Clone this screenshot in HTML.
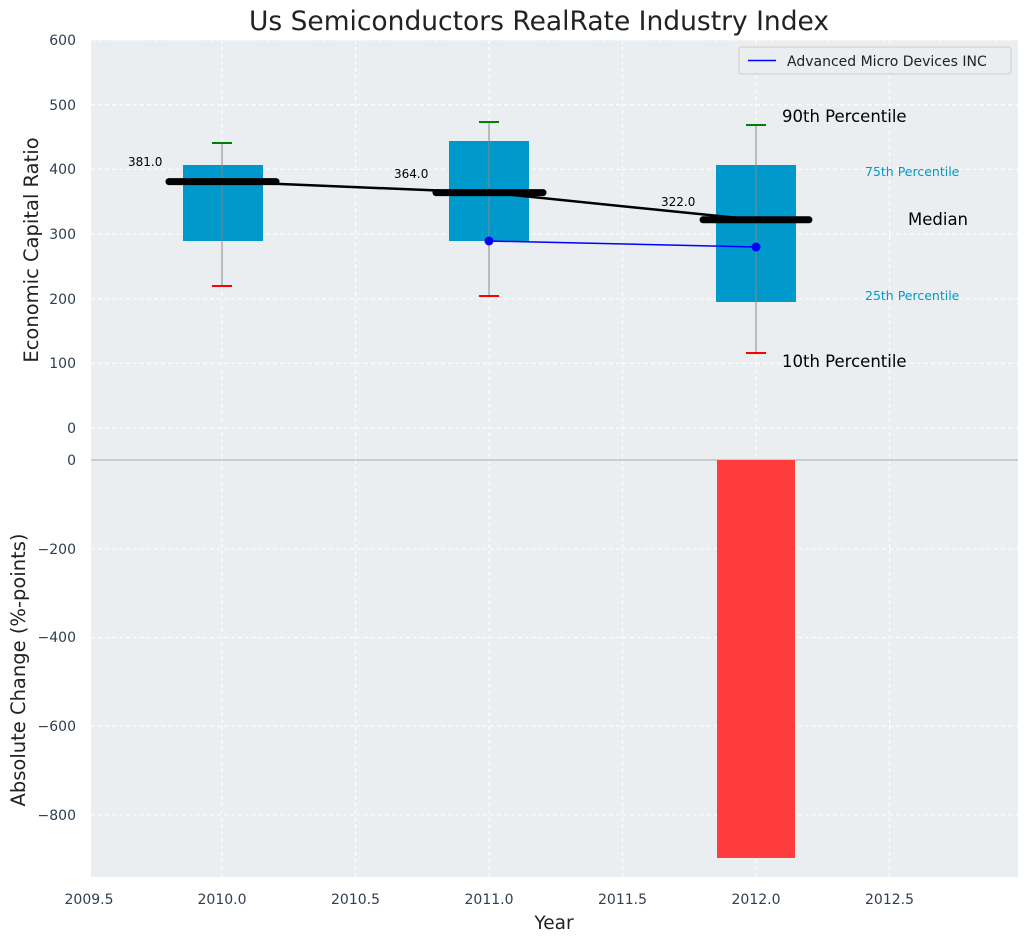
<!DOCTYPE html>
<html><head><meta charset="utf-8"><style>body{margin:0;background:#fff}svg{display:block}text{font-family:"DejaVu Sans","Liberation Sans",sans-serif}</style></head><body>
<svg width="1029" height="942" viewBox="0 0 1029 942">
<rect x="91" y="40" width="927" height="837" fill="#eaeef0"/>
<g stroke="#fff" stroke-dasharray="4,3" stroke-width="1">
<line x1="91" x2="1018" y1="40" y2="40"/><line x1="91" x2="1018" y1="104.7" y2="104.7"/><line x1="91" x2="1018" y1="169.3" y2="169.3"/><line x1="91" x2="1018" y1="234" y2="234"/><line x1="91" x2="1018" y1="298.7" y2="298.7"/><line x1="91" x2="1018" y1="363.3" y2="363.3"/><line x1="91" x2="1018" y1="428" y2="428"/>
<line x1="91" x2="1018" y1="549" y2="549"/><line x1="91" x2="1018" y1="637.5" y2="637.5"/><line x1="91" x2="1018" y1="726" y2="726"/><line x1="91" x2="1018" y1="815" y2="815"/>
<line x1="222" x2="222" y1="40" y2="877"/><line x1="355.5" x2="355.5" y1="40" y2="877"/><line x1="489" x2="489" y1="40" y2="877"/><line x1="622.5" x2="622.5" y1="40" y2="877"/><line x1="756" x2="756" y1="40" y2="877"/><line x1="889.5" x2="889.5" y1="40" y2="877"/>
</g>
<line x1="91" x2="1018" y1="460" y2="460" stroke="#aaa" stroke-width="1"/>
<g fill="#0099cc">
<rect x="183" y="165" width="80" height="76"/><rect x="449" y="141" width="80" height="100"/><rect x="716" y="165" width="80" height="137"/>
</g>
<g stroke="#888" stroke-width="1">
<line x1="222" x2="222" y1="143" y2="286"/><line x1="489" x2="489" y1="122" y2="296"/><line x1="756" x2="756" y1="125" y2="353"/>
</g>
<g stroke-width="2">
<line x1="212" x2="232" y1="143" y2="143" stroke="green"/><line x1="212" x2="232" y1="286" y2="286" stroke="red"/>
<line x1="479" x2="499" y1="122" y2="122" stroke="green"/><line x1="479" x2="499" y1="296" y2="296" stroke="red"/>
<line x1="746" x2="766" y1="125" y2="125" stroke="green"/><line x1="746" x2="766" y1="353" y2="353" stroke="red"/>
</g>
<polyline points="222,181.6 489,192.6 756,219.8" fill="none" stroke="#000" stroke-width="2.5"/>
<g stroke="#000" stroke-width="7" stroke-linecap="round">
<line x1="169" x2="276" y1="181.6" y2="181.6"/><line x1="436" x2="543" y1="192.6" y2="192.6"/><line x1="703" x2="809" y1="219.8" y2="219.8"/>
</g>
<polyline points="489,241 756,247" fill="none" stroke="blue" stroke-width="1.5"/>
<circle cx="489" cy="241" r="4.5" fill="blue"/><circle cx="756" cy="247" r="4.5" fill="blue"/>
<rect x="717" y="460" width="78" height="398" fill="#ff3d3d"/>
<g font-size="12" fill="#000"><text x="128" y="166">381.0</text><text x="394" y="178">364.0</text><text x="661" y="206">322.0</text></g>
<text x="782" y="122" font-size="16.5">90th Percentile</text>
<text x="782" y="367" font-size="16.5">10th Percentile</text>
<text x="908" y="225" font-size="16.5">Median</text>
<text x="865" y="176" font-size="12.5" fill="#0099cc">75th Percentile</text>
<text x="865" y="300" font-size="12.5" fill="#0099cc">25th Percentile</text>
<rect x="739" y="47" width="272" height="27" fill="#eaeef0" stroke="#ccc" rx="3"/>
<line x1="748" x2="776" y1="60.5" y2="60.5" stroke="blue" stroke-width="1.5"/>
<text x="787" y="66" font-size="14" fill="#222">Advanced Micro Devices INC</text>
<g font-size="14" fill="#2e3f52" text-anchor="end">
<text x="76" y="45">600</text><text x="76" y="110">500</text><text x="76" y="174">400</text><text x="76" y="239">300</text><text x="76" y="304">200</text><text x="76" y="368">100</text><text x="76" y="433">0</text>
<text x="76" y="465">0</text><text x="76" y="554">−200</text><text x="76" y="642">−400</text><text x="76" y="731">−600</text><text x="76" y="820">−800</text>
</g>
<g font-size="14" fill="#2e3f52" text-anchor="middle">
<text x="89" y="904">2009.5</text><text x="222" y="904">2010.0</text><text x="355.5" y="904">2010.5</text><text x="489" y="904">2011.0</text><text x="622.5" y="904">2011.5</text><text x="756" y="904">2012.0</text><text x="889.5" y="904">2012.5</text>
</g>
<text x="554" y="929" font-size="18.5" text-anchor="middle" fill="#222">Year</text>
<text x="539" y="30" font-size="26.5" text-anchor="middle" fill="#222">Us Semiconductors RealRate Industry Index</text>
<text transform="translate(38,250) rotate(-90)" font-size="19.5" text-anchor="middle" fill="#222">Economic Capital Ratio</text>
<text transform="translate(25,670) rotate(-90)" font-size="19.5" text-anchor="middle" fill="#222">Absolute Change (%-points)</text>
</svg>
</body></html>
